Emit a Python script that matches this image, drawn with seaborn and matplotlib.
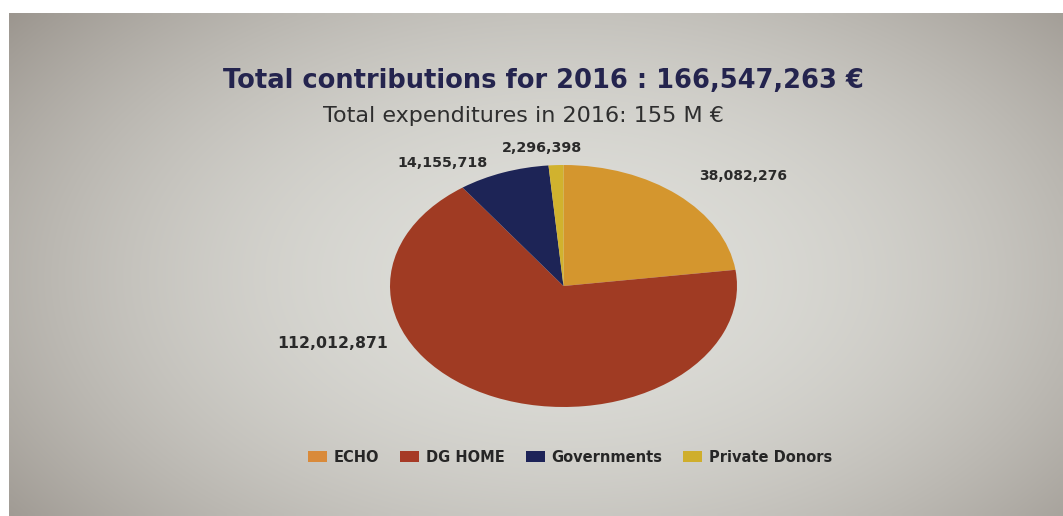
import numpy as np
import matplotlib
matplotlib.use("Agg")
import matplotlib.pyplot as plt
import seaborn as sns
from matplotlib.patches import Patch

# ---- data ----
categories = ["ECHO", "DG HOME", "Governments", "Private Donors"]
values = [38082276, 112012871, 14155718, 2296398]
slice_colors = ["#d4962e", "#a03b23", "#1d2456", "#d1b22e"]
legend_colors = ["#d98a3a", "#a63a26", "#1d2358", "#cfae2c"]
title_text = "Total contributions for 2016 : 166,547,263 €"
subtitle_text = "Total expenditures in 2016: 155 M €"

sns.set_theme(style="white")
plt.rcParams["font.family"] = ["DejaVu Sans"]

W, H = 1063, 516
fig = plt.figure(figsize=(W / 100, H / 100), dpi=100, facecolor="white")
renderer = fig.canvas.get_renderer()

# photo-like background with vignette
bg = fig.add_axes([9 / W, 0, 1 - 9 / W, 1 - 13 / H])
yy, xx = np.mgrid[0:100, 0:200]
r = np.sqrt(((xx - 105) / 120.0) ** 2 + ((yy - 52) / 75.0) ** 2)
t = np.clip(r, 0, 1.3) ** 2 / 1.69
c0 = np.array([0.87, 0.87, 0.85])
c1 = np.array([0.52, 0.49, 0.46])
img = c0[None, None, :] * (1 - t[..., None]) + c1[None, None, :] * t[..., None]
bg.imshow(img, aspect="auto", interpolation="bilinear")
bg.axis("off")

# pie (elliptical because of perspective)
ax = fig.add_axes([390 / W, 1 - 407 / H, 347 / W, 242 / H])
ax.pie(values, colors=slice_colors, startangle=90, counterclock=False,
       wedgeprops=dict(linewidth=0))
ax.set_aspect("auto")
ax.set_xlim(-1, 1)
ax.set_ylim(-1, 1)
ax.axis("off")


def fx(x):
    return x / W


def fy(y):
    return 1 - y / H


def fit_text(x0, x1, y, s, **kw):
    """Place text left-aligned at x0 and scale it so it spans to x1."""
    txt = fig.text(fx(x0), fy(y), s, ha="left", va="baseline", **kw)
    w = txt.get_window_extent(renderer).width
    txt.set_fontsize(txt.get_fontsize() * (x1 - x0) / w)
    return txt


fig.text(fx(543), fy(88), title_text, ha="center", va="baseline",
         fontsize=18.5, fontweight="heavy", color="#24244e")
fig.text(fx(523), fy(122), subtitle_text, ha="center", va="baseline",
         fontsize=16, color="#2e2e2e")

# value labels: (left x, right x, baseline y) in pixels
label_box = [(699, 787, 180), (277, 388, 348), (397, 488, 167), (502, 582, 152)]
for v, (x0, x1, y) in zip(values, label_box):
    fit_text(x0, x1, y, f"{v:,}", fontsize=10, fontweight="bold",
             color="#2a2a2a")

handles = [Patch(facecolor=c, edgecolor="none") for c in legend_colors]
fig.legend(handles, categories, loc="center", bbox_to_anchor=(fx(570), fy(457)),
           ncol=4, frameon=False, handlelength=1.3, handleheight=0.7,
           columnspacing=1.45, handletextpad=0.45,
           prop=dict(weight="bold", size=10.5))

fig.savefig("out.png", dpi=100, facecolor=fig.get_facecolor())
